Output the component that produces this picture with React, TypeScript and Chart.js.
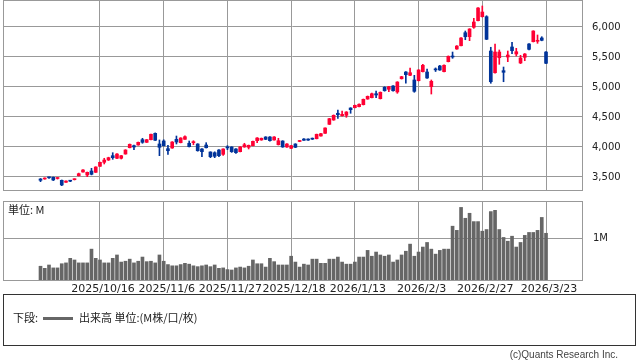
import React, { useEffect, useRef } from "react";
import { Chart, registerables } from "chart.js";

Chart.register(...registerables);

// ---- data ----
const tickIdx = [14, 29, 44, 59, 74, 89, 104, 119];
const tickLabels = ["2025/10/16", "2025/11/6", "2025/11/27", "2025/12/18", "2026/1/13", "2026/2/3", "2026/2/27", "2026/3/23"];
const priceTicks = [3500, 4000, 4500, 5000, 5500, 6000];
const volTicks = [1];

const openP = [
  3467, 3467, 3492, 3495, 3475, 3445, 3412, 3436, 3455, 3522,
  3583, 3533, 3600, 3578, 3678, 3745, 3783, 3855, 3812, 3812,
  3883, 3988, 4022, 4033, 4122, 4078, 4122, 4228, 4050, 4100,
  3972, 3983, 4128, 4072, 4128, 4062, 4072, 4050, 3967, 4033,
  3917, 3905, 3950, 3878, 3992, 4000, 3967, 3922, 4000, 3995,
  4022, 4105, 4117, 4167, 4167, 4117, 4038, 4100, 4000, 3978,
  4050, 4092, 4133, 4133, 4137, 4138, 4183, 4228, 4378, 4450,
  4562, 4522, 4528, 4650, 4655, 4672, 4705, 4800, 4822, 4888,
  4805, 4995, 4962, 5017, 4917, 5138, 5250, 5195, 5117, 5105,
  5255, 5250, 5005, 5292, 5350, 5255, 5422, 5508, 5633, 5688,
  5905, 5838, 5995, 6105, 6172, 6172, 5600, 5238, 5488, 5272,
  5500, 5667, 5550, 5400, 5495, 5717, 5755, 5762, 5817, 5583,
];
const closeP = [
  3445, 3478, 3487, 3450, 3480, 3367, 3433, 3430, 3462, 3555,
  3617, 3578, 3545, 3667, 3745, 3783, 3822, 3822, 3883, 3855,
  3950, 4045, 4000, 4078, 4078, 4122, 4212, 4112, 3995, 4022,
  3938, 4083, 4083, 4150, 4172, 4005, 4080, 3938, 3922, 3988,
  3838, 3845, 3855, 3967, 3985, 3922, 3905, 4000, 4038, 4028,
  4095, 4150, 4145, 4128, 4105, 4167, 4105, 4000, 4050, 4022,
  3995, 4105, 4112, 4115, 4130, 4212, 4222, 4317, 4472, 4528,
  4538, 4545, 4583, 4622, 4695, 4712, 4795, 4845, 4888, 4867,
  4912, 4938, 5005, 4938, 5083, 5172, 5205, 5238, 4928, 5283,
  5362, 5150, 5095, 5285, 5283, 5362, 5512, 5500, 5683, 5817,
  5838, 5967, 6083, 6317, 6250, 5795, 5088, 5583, 5583, 5245,
  5533, 5605, 5588, 5483, 5550, 5628, 5933, 5772, 5778, 5395,
];
const highP = [
  3475, 3485, 3500, 3500, 3490, 3450, 3437, 3445, 3470, 3565,
  3622, 3583, 3645, 3670, 3750, 3812, 3830, 3905, 3890, 3860,
  3955, 4050, 4030, 4083, 4145, 4125, 4215, 4235, 4117, 4120,
  4028, 4090, 4183, 4155, 4188, 4100, 4105, 4055, 3975, 4072,
  3920, 3920, 3955, 3970, 4022, 4005, 3975, 4005, 4062, 4033,
  4100, 4155, 4150, 4172, 4172, 4172, 4145, 4105, 4055, 4028,
  4055, 4110, 4140, 4138, 4150, 4215, 4228, 4320, 4478, 4535,
  4617, 4600, 4590, 4655, 4700, 4718, 4800, 4850, 4900, 4933,
  4918, 5005, 5010, 5025, 5088, 5178, 5255, 5317, 5195, 5290,
  5378, 5300, 5117, 5318, 5360, 5370, 5518, 5583, 5690, 5822,
  5933, 5972, 6145, 6322, 6350, 6188, 5662, 5717, 5617, 5333,
  5600, 5745, 5645, 5528, 5558, 5722, 5938, 5867, 5838, 5590,
];
const lowP = [
  3422, 3462, 3478, 3440, 3465, 3355, 3410, 3422, 3450, 3515,
  3580, 3505, 3535, 3575, 3675, 3717, 3775, 3795, 3805, 3800,
  3880, 3985, 3955, 4030, 4062, 4075, 4118, 4108, 3855, 4015,
  3878, 3978, 4050, 4068, 4125, 4000, 4038, 3930, 3838, 3983,
  3822, 3822, 3840, 3860, 3955, 3910, 3895, 3918, 3995, 3967,
  4018, 4072, 4112, 4122, 4098, 4112, 4033, 3995, 3995, 3972,
  3990, 4088, 4108, 4110, 4125, 4135, 4180, 4225, 4375, 4445,
  4478, 4515, 4495, 4562, 4650, 4668, 4700, 4795, 4818, 4822,
  4800, 4930, 4922, 4930, 4895, 5132, 5062, 5190, 4912, 5100,
  5250, 5145, 4883, 5258, 5278, 5250, 5418, 5478, 5628, 5683,
  5788, 5772, 5978, 6100, 6165, 5790, 5062, 5230, 5378, 5088,
  5422, 5555, 5517, 5390, 5438, 5620, 5750, 5728, 5770, 5390,
];
const volumeM = [
  0.33, 0.28, 0.36, 0.29, 0.29, 0.39, 0.41, 0.52, 0.48, 0.41,
  0.41, 0.41, 0.74, 0.52, 0.48, 0.41, 0.41, 0.52, 0.60, 0.43,
  0.45, 0.50, 0.41, 0.45, 0.55, 0.44, 0.45, 0.41, 0.60, 0.45,
  0.37, 0.34, 0.34, 0.37, 0.40, 0.38, 0.34, 0.32, 0.34, 0.36,
  0.32, 0.36, 0.28, 0.29, 0.25, 0.24, 0.29, 0.31, 0.29, 0.33,
  0.48, 0.39, 0.39, 0.31, 0.52, 0.44, 0.36, 0.36, 0.36, 0.57,
  0.43, 0.31, 0.38, 0.36, 0.50, 0.50, 0.40, 0.40, 0.50, 0.50,
  0.55, 0.43, 0.38, 0.38, 0.43, 0.55, 0.55, 0.71, 0.57, 0.67,
  0.60, 0.57, 0.60, 0.43, 0.48, 0.60, 0.69, 0.86, 0.57, 0.67,
  0.79, 0.90, 0.74, 0.62, 0.71, 0.74, 0.74, 1.29, 1.19, 1.74,
  1.48, 1.60, 1.40, 1.40, 1.17, 1.21, 1.64, 1.67, 1.21, 1.02,
  0.93, 1.05, 0.79, 0.90, 1.07, 1.14, 1.14, 1.19, 1.50, 1.12,
];

// ---- styling ----
const X_MIN = -8.83;
const X_MAX = 127.47;
const UP = "#ff0033";
const DOWN = "#003399";
const GRID = "#999999";
const VOL = "#666666";
const X_FONT = { family: "'DejaVu Sans', sans-serif", size: 11 };
const Y_FONT = { family: "'DejaVu Sans', sans-serif", size: 10 };

const areaBorder = {
  id: "areaBorder",
  afterDraw(chart: any) {
    const { ctx, chartArea: a } = chart;
    ctx.save();
    ctx.strokeStyle = GRID;
    ctx.lineWidth = 1;
    const l = Math.round(a.left), t = Math.round(a.top), r = Math.round(a.right), b = Math.round(a.bottom);
    ctx.strokeRect(l + 0.5, t + 0.5, r - l, b - t);
    ctx.restore();
  },
};

const noPad = (s: any) => {
  s.paddingTop = 0;
  s.paddingBottom = 0;
  s.paddingLeft = 0;
  s.paddingRight = 0;
};
const setXTicks = (s: any) => { s.ticks = tickIdx.map((v) => ({ value: v })); };

function PriceChart() {
  const ref = useRef<HTMLCanvasElement>(null);
  useEffect(() => {
    const idx = openP.map((_, i) => i);
    const colors = idx.map((i) => (closeP[i] >= openP[i] ? UP : DOWN));
    const chart = new Chart(ref.current as HTMLCanvasElement, {
      type: "bar",
      data: {
        datasets: [
          {
            data: idx.map((i) => ({ x: i, y: [openP[i], closeP[i]] })) as any,
            backgroundColor: colors,
            borderWidth: 0,
            barThickness: 3,
            minBarLength: 1,
            grouped: false,
          } as any,
          {
            data: idx.map((i) => ({ x: i, y: [lowP[i], highP[i]] })) as any,
            backgroundColor: colors,
            borderWidth: 0,
            barThickness: 1,
            grouped: false,
          } as any,
        ],
      },
      options: {
        animation: false,
        responsive: false,
        events: [],
        layout: { autoPadding: false, padding: { left: 3, top: 0, right: 0, bottom: 2 } },
        plugins: { legend: { display: false }, tooltip: { enabled: false } },
        scales: {
          x: {
            type: "linear",
            min: X_MIN,
            max: X_MAX,
            offset: false,
            grid: { color: GRID, drawTicks: false, offset: false },
            border: { display: false },
            ticks: { display: false },
            afterBuildTicks: setXTicks,
            afterFit: (s: any) => { s.height = 0; noPad(s); },
          },
          y: {
            position: "right",
            min: 3283.3,
            max: 6450,
            grid: { color: GRID, drawTicks: false },
            border: { display: false },
            ticks: {
              padding: 10,
              color: "#222",
              font: Y_FONT,
              callback: (v: any) => Number(v).toLocaleString("en-US"),
            },
            afterBuildTicks: (s: any) => { s.ticks = priceTicks.map((v) => ({ value: v })); },
            afterFit: (s: any) => { s.width = 56; noPad(s); },
          },
        },
      } as any,
      plugins: [areaBorder],
    });
    return () => chart.destroy();
  }, []);
  return <canvas ref={ref} width={638} height={192} style={{ display: "block" }} />;
}

function VolumeChart() {
  const ref = useRef<HTMLCanvasElement>(null);
  useEffect(() => {
    const idx = volumeM.map((_, i) => i);
    const chart = new Chart(ref.current as HTMLCanvasElement, {
      type: "bar",
      data: {
        datasets: [
          {
            data: idx.map((i) => ({ x: i, y: volumeM[i] })) as any,
            backgroundColor: VOL,
            borderWidth: 0,
            barThickness: 3,
          } as any,
        ],
      },
      options: {
        animation: false,
        responsive: false,
        events: [],
        layout: { autoPadding: false, padding: { left: 3, top: 5, right: 0, bottom: 0 } },
        plugins: { legend: { display: false }, tooltip: { enabled: false } },
        scales: {
          x: {
            type: "linear",
            min: X_MIN,
            max: X_MAX,
            offset: false,
            grid: { color: GRID, drawTicks: false, offset: false },
            border: { display: false },
            ticks: {
              padding: 3,
              labelOffset: 3,
              color: "#222",
              font: X_FONT,
              autoSkip: false,
              maxRotation: 0,
              minRotation: 0,
              callback: (v: any) => tickLabels[tickIdx.indexOf(Number(v))] ?? "",
            },
            afterBuildTicks: setXTicks,
            afterFit: (s: any) => { s.height = 20; noPad(s); },
          },
          y: {
            position: "right",
            min: 0,
            max: 1.894,
            grid: { color: GRID, drawTicks: false },
            border: { display: false },
            ticks: {
              padding: 11,
              color: "#222",
              font: Y_FONT,
              callback: (v: any) => `${v}M`,
            },
            afterBuildTicks: (s: any) => { s.ticks = volTicks.map((v) => ({ value: v })); },
            afterFit: (s: any) => { s.width = 56; noPad(s); },
          },
        },
      } as any,
      plugins: [areaBorder],
    });
    return () => chart.destroy();
  }, []);
  return <canvas ref={ref} width={638} height={104} style={{ display: "block" }} />;
}

const cjk = "'Noto Sans CJK JP', 'DejaVu Sans', sans-serif";

export default function App() {
  return (
    <div style={{ position: "absolute", left: 0, top: 0, width: 638, height: 362, background: "#fff", overflow: "hidden" }}>
      <div style={{ position: "absolute", left: 0, top: 0 }}>
        <PriceChart />
      </div>
      <div style={{ position: "absolute", left: 0, top: 196 }}>
        <VolumeChart />
      </div>
      <div style={{ position: "absolute", left: 8, top: 202, font: `11px ${cjk}`, lineHeight: "14px", color: "#222" }}>
        単位: M
      </div>
      <div style={{ position: "absolute", left: 3, top: 294, width: 633, height: 52, boxSizing: "border-box", border: "1px solid #333" }}>
        <div style={{ position: "absolute", left: 9, top: 15, font: `11px ${cjk}`, lineHeight: "14px", color: "#222", whiteSpace: "nowrap" }}>
          下段:
        </div>
        <div style={{ position: "absolute", left: 39, top: 22, width: 30, height: 3, background: VOL }} />
        <div style={{ position: "absolute", left: 75, top: 15, font: `11px ${cjk}`, lineHeight: "14px", color: "#222", whiteSpace: "nowrap" }}>
          出来高 単位:(M株/口/枚)
        </div>
      </div>
      <div style={{ position: "absolute", right: 20, top: 349, font: "10px 'Liberation Sans', sans-serif", lineHeight: "12px", color: "#444", whiteSpace: "nowrap" }}>
        (c)Quants Research Inc.
      </div>
    </div>
  );
}
